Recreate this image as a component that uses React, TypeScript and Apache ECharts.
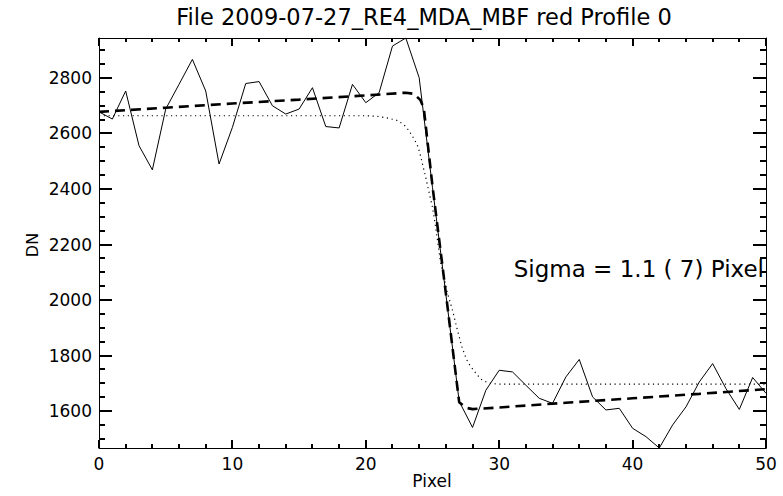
import React, { useEffect, useRef } from "react";
import * as echarts from "echarts";

const TITLE = "File 2009-07-27_RE4_MDA_MBF red Profile 0";
const X_NAME = "Pixel";
const Y_NAME = "DN";
const NOTE = "Sigma = 1.1 ( 7) Pixel";

const PIXELS = [
  0, 1, 2, 3, 4, 5, 6, 7, 8, 9, 10, 11, 12, 13, 14, 15, 16, 17, 18, 19, 20,
  21, 22, 23, 24, 25, 26, 27, 28, 29, 30, 31, 32, 33, 34, 35, 36, 37, 38, 39,
  40, 41, 42, 43, 44, 45, 46, 47, 48, 49, 50,
];

const PROFILE = [
  2678, 2652, 2753, 2556, 2469, 2688, 2777, 2867, 2753, 2490, 2622, 2780,
  2787, 2700, 2670, 2688, 2765, 2625, 2620, 2777, 2711, 2747, 2915, 2944,
  2801, 2405, 2022, 1635, 1541, 1675, 1747, 1741, 1693, 1646, 1628, 1723,
  1786, 1651, 1604, 1610, 1538, 1508, 1467, 1550, 1615, 1705, 1771, 1681,
  1606, 1721, 1664,
];

// fitted model (dashed), read as [pixel, DN]
const FIT_X = [0, 5, 10, 15, 20, 23, 23.6, 24.1, 24.35, 25, 26, 27, 27.5, 28, 30, 35, 40, 45, 50];
const FIT_Y = [2678, 2693, 2708, 2722, 2737, 2747, 2743, 2720, 2690, 2410, 2025, 1632, 1612, 1607, 1613, 1630, 1646, 1662, 1679];

// ideal edge (dotted), read as [pixel, DN]
const EDGE_X = [0, 20, 21, 21.7, 22.3, 22.6, 23, 23.2, 23.5, 23.85, 24.05, 24.25, 24.5, 24.8, 25, 25.2, 25.6, 26.1, 26.5, 26.85, 27.2, 27.5, 27.7, 28, 28.35, 28.7, 29.1, 29.5, 30, 50];
const EDGE_Y = [2664, 2664, 2661, 2655, 2648, 2640, 2625, 2612, 2590, 2560, 2530, 2490, 2440, 2376, 2334, 2275, 2137, 2029, 1963, 1895, 1832, 1792, 1772, 1752, 1730, 1713, 1703, 1699, 1697, 1697];

const X_MIN = 0;
const X_MAX = 50;
const X_MAJOR = [0, 10, 20, 30, 40, 50];
const X_MINOR = [2, 4, 6, 8, 12, 14, 16, 18, 22, 24, 26, 28, 32, 34, 36, 38, 42, 44, 46, 48];
const Y_MIN = 1467;
const Y_MAX = 2944;
const Y_MAJOR = [1600, 1800, 2000, 2200, 2400, 2600, 2800];
const Y_MINOR = [1500, 1550, 1650, 1700, 1750, 1850, 1900, 1950, 2050, 2100, 2150, 2250, 2300, 2350, 2450, 2500, 2550, 2650, 2700, 2750, 2850, 2900];

const FONT = "DejaVu Sans";

export default function App() {
  const ref = useRef<HTMLDivElement>(null);

  useEffect(() => {
    if (!ref.current) return;
    const chart = echarts.init(ref.current, null, { renderer: "svg" });

    const line = { color: "#000", width: 1 };

    // one inward tick per data item, anchored on the frame through the axes' scales
    const ticks = (points: number[][], dx: number, dy: number) => ({
      type: "custom",
      coordinateSystem: "cartesian2d",
      clip: false,
      z: 6,
      data: points,
      renderItem: (_p: any, api: any) => {
        const c = api.coord([api.value(0), api.value(1)]);
        const x = Math.round(c[0]);
        const y = Math.round(c[1]);
        return {
          type: "line",
          shape: { x1: x, y1: y, x2: x + dx, y2: y + dy },
          style: { stroke: "#000", lineWidth: 2 },
        };
      },
    });

    const tickSeries = [
      ticks(X_MAJOR.map((v) => [v, Y_MIN]), 0, -8),
      ticks(X_MAJOR.map((v) => [v, Y_MAX]), 0, 8),
      ticks(X_MINOR.map((v) => [v, Y_MIN]), 0, -4),
      ticks(X_MINOR.map((v) => [v, Y_MAX]), 0, 4),
      ticks(Y_MAJOR.map((v) => [X_MIN, v]), 13, 0),
      ticks(Y_MAJOR.map((v) => [X_MAX, v]), -13, 0),
      ticks(Y_MINOR.map((v) => [X_MIN, v]), 6, 0),
      ticks(Y_MINOR.map((v) => [X_MAX, v]), -6, 0),
    ];

    chart.setOption({
      animation: false,
      backgroundColor: "#fff",
      grid: { left: 99, right: 17, top: 38, bottom: 48, containLabel: false },
      xAxis: [
        {
          type: "value",
          min: X_MIN,
          max: X_MAX,
          interval: 10,
          position: "bottom",
          axisLine: { show: true, onZero: false, lineStyle: line },
          axisTick: { show: false },
          axisLabel: { color: "#000", fontFamily: FONT, fontSize: 17, margin: 7 },
          splitLine: { show: false },
        },
        {
          type: "value",
          min: X_MIN,
          max: X_MAX,
          interval: 10,
          position: "top",
          axisLine: { show: true, onZero: false, lineStyle: line },
          axisTick: { show: false },
          axisLabel: { show: false },
          splitLine: { show: false },
        },
      ],
      yAxis: [
        {
          type: "value",
          min: Y_MIN,
          max: Y_MAX,
          position: "left",
          axisLine: { show: true, onZero: false, lineStyle: line },
          axisTick: { show: false },
          axisLabel: {
            customValues: Y_MAJOR,
            formatter: (v: number) => String(v),
            color: "#000",
            fontFamily: FONT,
            fontSize: 17,
            margin: 7,
          },
          splitLine: { show: false },
        },
        {
          type: "value",
          min: Y_MIN,
          max: Y_MAX,
          position: "right",
          axisLine: { show: true, onZero: false, lineStyle: line },
          axisTick: { show: false },
          axisLabel: { show: false },
          splitLine: { show: false },
        },
      ],
      series: [
        {
          type: "line",
          data: PIXELS.map((p, i) => [p, PROFILE[i]]),
          showSymbol: false,
          symbol: "none",
          lineStyle: { color: "#000", width: 1 },
          z: 3,
        },
        {
          type: "line",
          data: FIT_X.map((p, i) => [p, FIT_Y[i]]),
          showSymbol: false,
          symbol: "none",
          lineStyle: { color: "#000", width: 2.6, type: [10, 6] },
          z: 4,
        },
        {
          type: "line",
          data: EDGE_X.map((p, i) => [p, EDGE_Y[i]]),
          showSymbol: false,
          symbol: "none",
          lineStyle: { color: "#000", width: 1.2, type: [1.2, 3.6] },
          z: 2,
        },
        ...tickSeries,
      ],
      graphic: [
        { type: "text", x: 424, y: 17, style: { text: TITLE, fill: "#000", font: `22.5px "${FONT}"`, textAlign: "center", textVerticalAlign: "middle" } },
        { type: "text", x: 432, y: 481, style: { text: X_NAME, fill: "#000", font: `17px "${FONT}"`, textAlign: "center", textVerticalAlign: "middle" } },
        { type: "text", x: 32, y: 245, rotation: Math.PI / 2, style: { text: Y_NAME, fill: "#000", font: `16px "${FONT}"`, textAlign: "center", textVerticalAlign: "middle" } },
        { type: "text", x: 764, y: 269, style: { text: NOTE, fill: "#000", font: `23px "${FONT}"`, textAlign: "right", textVerticalAlign: "middle" } },
      ],
    });

    return () => chart.dispose();
  }, []);

  return (
    <div ref={ref} style={{ position: "fixed", left: 0, top: 0, width: 783, height: 496, background: "#fff" }} />
  );
}
